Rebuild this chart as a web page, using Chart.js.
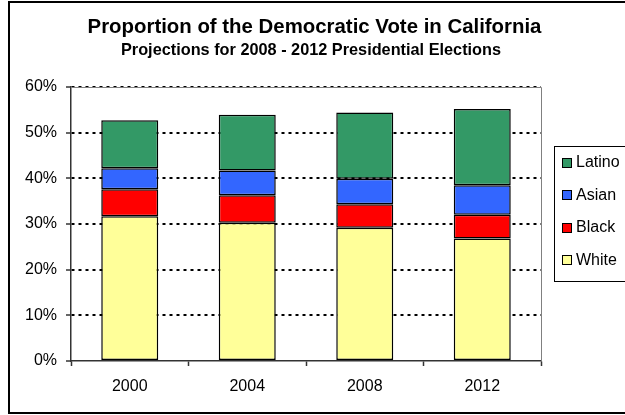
<!DOCTYPE html>
<html>
<head>
<meta charset="utf-8">
<script src="https://cdn.jsdelivr.net/npm/chart.js@4"></script>
<style>
  html, body { margin: 0; padding: 0; background: #fff; }
  #wrap { width: 625px; height: 415px; }
</style>
</head>
<body>
<div id="wrap"><canvas id="chart" width="625" height="415"></canvas></div>
<script>
const years = ['2000', '2004', '2008', '2012'];
const white = [31.7, 30.3, 29.2, 26.8];
const black = [5.9, 6.0, 5.1, 5.2];
const asian = [4.6, 5.4, 5.6, 6.5];
const latino = [10.5, 12.2, 14.5, 16.7];
const yTicks = [0, 10, 20, 30, 40, 50, 60];

const FONT = 'Arial, "Liberation Sans", sans-serif';

// frame, titles and the boxed legend on the right
const decorations = {
    id: 'decorations',
    afterDraw(chart) {
        const ctx = chart.ctx;
        const area = chart.chartArea;
        ctx.save();

        // plot area border (grey)
        ctx.strokeStyle = '#808080';
        ctx.lineWidth = 1;
        ctx.beginPath();
        ctx.moveTo(area.left, area.top + 0.5);
        ctx.lineTo(area.right + 0.5, area.top + 0.5);
        ctx.lineTo(area.right + 0.5, area.bottom);
        ctx.stroke();

        // outer frame
        ctx.strokeStyle = '#000';
        ctx.lineWidth = 2;
        ctx.strokeRect(9, 2, 700, 411);

        // titles
        ctx.fillStyle = '#000';
        ctx.textAlign = 'center';
        ctx.textBaseline = 'alphabetic';
        ctx.font = 'bold 20.4px ' + FONT;
        ctx.fillText('Proportion of the Democratic Vote in California', 314.5, 33);
        ctx.font = 'bold 16.3px ' + FONT;
        ctx.fillText('Projections for 2008 - 2012 Presidential Elections', 311, 55);

        // legend
        const lx = 554, ly = 146, lw = 80, lh = 135;
        ctx.fillStyle = '#fff';
        ctx.fillRect(lx, ly, lw, lh);
        ctx.strokeStyle = '#000';
        ctx.lineWidth = 1;
        ctx.strokeRect(lx + 0.5, ly + 0.5, lw, lh);
        const sets = chart.data.datasets.slice().reverse();
        ctx.font = '16px ' + FONT;
        ctx.textAlign = 'left';
        ctx.textBaseline = 'middle';
        sets.forEach((ds, i) => {
            const cy = 163 + i * 32.4;
            ctx.fillStyle = ds.backgroundColor;
            ctx.fillRect(562.5, Math.round(cy) - 4.5, 9, 9);
            ctx.strokeStyle = '#000';
            ctx.strokeRect(562.5, Math.round(cy) - 4.5, 9, 9);
            ctx.fillStyle = '#000';
            ctx.fillText(ds.label, 576, cy);
        });
        ctx.restore();
    }
};

const ctx = document.getElementById('chart').getContext('2d');
new Chart(ctx, {
    type: 'bar',
    data: {
        labels: years,
        datasets: [
            { label: 'White', data: white, backgroundColor: '#FFFF99' },
            { label: 'Black', data: black, backgroundColor: '#FF0000' },
            { label: 'Asian', data: asian, backgroundColor: '#3366FF' },
            { label: 'Latino', data: latino, backgroundColor: '#339966' },
        ].map(d => Object.assign(d, {
            borderColor: '#000',
            borderWidth: 1.5,
            borderSkipped: false,
            barPercentage: 0.485,
            categoryPercentage: 1,
        })),
    },
    options: {
        responsive: false,
        animation: false,
        layout: { padding: { top: 87, right: 84, bottom: 0, left: 0 } },
        plugins: {
            legend: { display: false },
            title: { display: false },
            tooltip: { enabled: false },
        },
        scales: {
            x: {
                stacked: true,
                afterFit: (s) => { s.height = 54; },
                border: { color: '#333', width: 1.5 },
                grid: {
                    offset: true,
                    drawOnChartArea: false,
                    drawTicks: true,
                    tickLength: 5,
                    tickColor: '#333',
                    tickWidth: 1.5,
                },
                ticks: { color: '#000', padding: 11, font: { family: FONT, size: 16 } },
            },
            y: {
                stacked: true,
                min: 0,
                max: 60,
                afterFit: (s) => { s.width = 71; },
                afterBuildTicks: (s) => { s.ticks = yTicks.map(v => ({ value: v })); },
                border: { color: '#333', width: 1.5, dash: [3, 4] },
                grid: {
                    color: (c) => c.tick && c.tick.value === 0 ? 'rgba(0,0,0,0)' : '#000',
                    lineWidth: 2,
                    drawTicks: true,
                    tickLength: 5,
                    tickColor: '#333',
                    tickWidth: 1.5,
                    tickBorderDash: [],
                },
                ticks: {
                    color: '#000',
                    padding: 9,
                    font: { family: FONT, size: 16 },
                    callback: (v) => v + '%',
                },
            },
        },
    },
    plugins: [decorations],
});
</script>
</body>
</html>
